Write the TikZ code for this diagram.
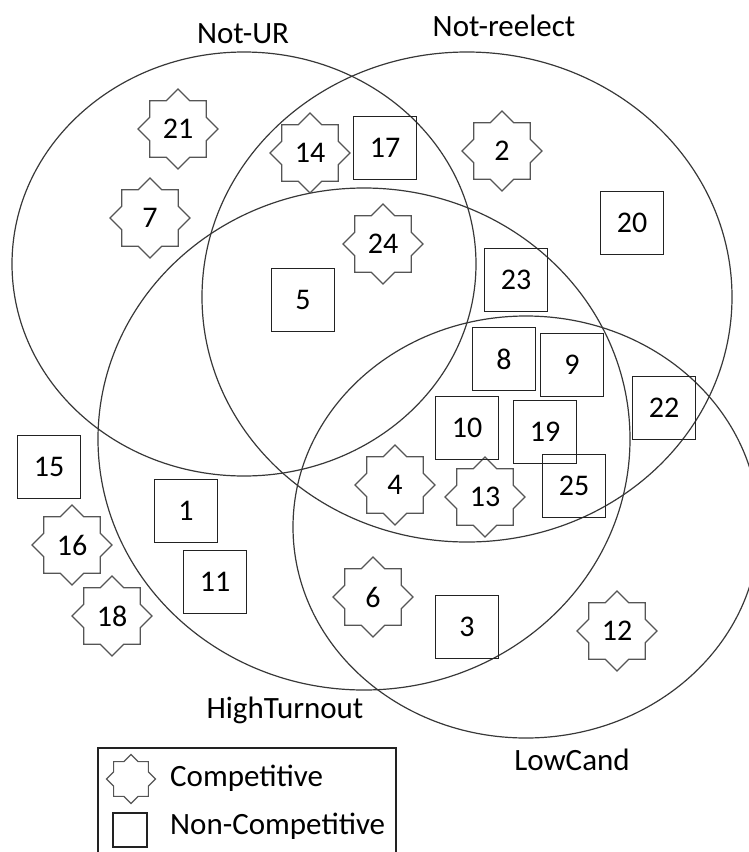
\documentclass[tikz,border=0pt]{standalone}
\usepackage{fontspec}
\setmainfont{Carlito}
\usetikzlibrary{shapes.geometric}
\definecolor{circ}{HTML}{383838}
\definecolor{stargray}{HTML}{555555}
\definecolor{boxblack}{HTML}{222222}
\newcommand\numfont{\fontsize{30}{35}\selectfont}
\newcommand\lblfont{\fontsize{31}{36}\selectfont}
\begin{document}
\begin{tikzpicture}[x=1pt,y=-1pt,
  setline/.style={draw=circ, line width=1.2pt},
  comp/.style={star, star points=8, star point ratio=1.3066, minimum size=80pt,
    inner sep=0pt, outer sep=0pt, draw=stargray, line width=1.1pt, font=\numfont},
  noncomp/.style={rectangle, minimum size=63pt, inner sep=0pt, outer sep=0pt,
    draw=boxblack, line width=1.2pt, font=\numfont},
  lbl/.style={font=\lblfont, anchor=base, inner sep=0pt, text=black},
  legtext/.style={font=\lblfont, anchor=base west, inner sep=0pt, text=black}]
\useasboundingbox (0,0) rectangle (748,852);

% sets
\draw[setline] (244,264) ellipse [x radius=232pt, y radius=212pt];
\draw[setline] (467,297) ellipse [x radius=265pt, y radius=245pt];
\draw[setline] (364,439) ellipse [x radius=266pt, y radius=251pt];
\draw[setline] (526,527) ellipse [x radius=233pt, y radius=211pt];

% set labels
\node[lbl] (notur) at (243,43) {Not-UR};
\node[lbl] (notre) at (504,36) {Not-reelect};
\node[lbl] (hight) at (285,718) {HighTurnout};
\node[lbl] (lowc) at (572,770) {LowCand};

% competitive
\node[comp] (c21) at (178,129) {21};
\node[comp] (c7)  at (150,218) {7};
\node[comp] (c14) at (310,153) {14};
\node[comp] (c2)  at (502,151) {2};
\node[comp] (c24) at (383,244) {24};
\node[comp] (c4)  at (395,485) {4};
\node[comp] (c13) at (485,497) {13};
\node[comp] (c16) at (72,545)  {16};
\node[comp] (c18) at (112,616) {18};
\node[comp] (c6)  at (373,597) {6};
\node[comp] (c12) at (617,631) {12};

% non-competitive
\node[noncomp] (n17) at (385,148) {17};
\node[noncomp] (n20) at (632,223) {20};
\node[noncomp] (n5)  at (303,300) {5};
\node[noncomp] (n23) at (516,280) {23};
\node[noncomp] (n8)  at (504,359) {8};
\node[noncomp] (n9)  at (572,365) {9};
\node[noncomp] (n22) at (664,408) {22};
\node[noncomp] (n10) at (467,428) {10};
\node[noncomp] (n19) at (545,432) {19};
\node[noncomp] (n25) at (574,486) {25};
\node[noncomp] (n15) at (49,467)  {15};
\node[noncomp] (n1)  at (186,511) {1};
\node[noncomp] (n11) at (215,582) {11};
\node[noncomp] (n3)  at (467,627) {3};

% legend
\draw[draw=boxblack, line width=1.2pt] (98,748) rectangle (396,860);
\node[comp, minimum size=49pt] (legc) at (131,779) {};
\node[noncomp, minimum size=34pt] (legn) at (130,830) {};
\node[legtext] (legct) at (170,786) {Competitive};
\node[legtext] (legnt) at (170,834) {Non-Competitive};
\end{tikzpicture}
\end{document}
